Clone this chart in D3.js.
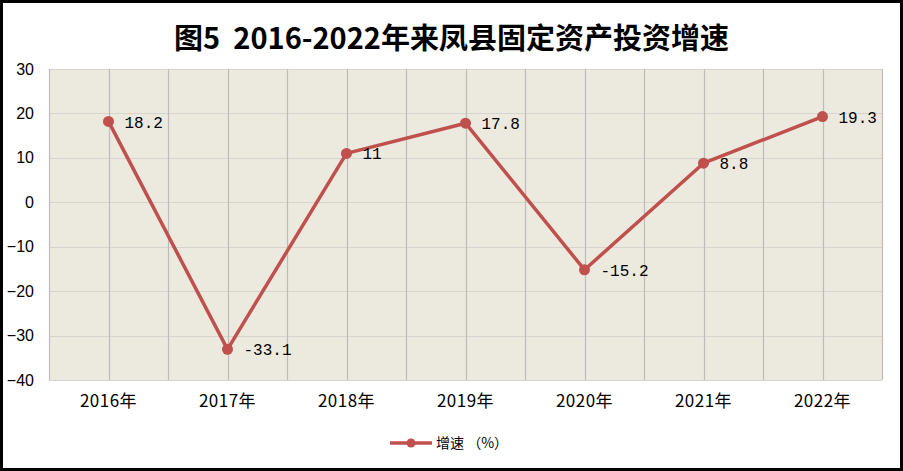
<!DOCTYPE html>
<html>
<head>
<meta charset="utf-8">
<script src="https://cdn.jsdelivr.net/npm/d3@7"></script>
<style>
  body { margin: 0; background: #fff; }
  svg { display: block; }
</style>
</head>
<body>
<div id="chart"></div>
<script>
// Dữ liệu biểu đồ
const years = ["2016年", "2017年", "2018年", "2019年", "2020年", "2021年", "2022年"];
const growthRate = [18.2, -33.1, 11, 17.8, -15.2, 8.8, 19.3];
const yTicks = [30, 20, 10, 0, -10, -20, -30, -40];
const seriesName = "增速 （%）";
const chartTitle = "图5  2016-2022年来凤县固定资产投资增速";

const W = 903, H = 471;
const margin = { top: 69, right: 21, bottom: 91, left: 49 };
const width = W - margin.left - margin.right;
const height = H - margin.top - margin.bottom;
const lineColor = "#C0504D";

const svgRoot = d3.select("#chart").append("svg")
    .attr("width", W)
    .attr("height", H);

// khung ngoài
svgRoot.append("rect")
    .attr("x", 1.5).attr("y", 1.5)
    .attr("width", W - 3).attr("height", H - 3)
    .attr("fill", "#fff")
    .attr("stroke", "#000").attr("stroke-width", 3);

// tiêu đề (giữ 2 dấu cách)
svgRoot.append("text")
    .attr("x", W / 2)
    .attr("y", 49)
    .attr("text-anchor", "middle")
    .style("white-space", "pre")
    .style("font-family", "'Noto Sans CJK SC', 'Liberation Sans', sans-serif")
    .style("font-weight", "bold")
    .style("font-size", "29px")
    .style("fill", "#000")
    .text(chartTitle);

const svg = svgRoot.append("g")
    .attr("transform", `translate(${margin.left},${margin.top})`);

const x = d3.scaleBand().domain(years).range([0, width]).padding(0);
const y = d3.scaleLinear().domain([-40, 30]).range([height, 0]);

// nền vùng vẽ
svg.append("rect")
    .attr("width", width).attr("height", height)
    .attr("fill", "#ECE9DF");

// lưới ngang
svg.append("g")
    .selectAll("line")
    .data(yTicks)
    .join("line")
    .attr("x1", 0).attr("x2", width)
    .attr("y1", d => Math.round(y(d)) + 0.5).attr("y2", d => Math.round(y(d)) + 0.5)
    .attr("stroke", "#D6D4D0").attr("stroke-width", 1.2);

// lưới dọc: biên và tâm mỗi danh mục
const vLines = [];
years.forEach(c => { vLines.push(x(c)); vLines.push(x(c) + x.bandwidth() / 2); });
vLines.push(width);
svg.append("g")
    .selectAll("line")
    .data(vLines)
    .join("line")
    .attr("x1", d => Math.round(d) + 0.5).attr("x2", d => Math.round(d) + 0.5)
    .attr("y1", 0).attr("y2", height)
    .attr("stroke", "#BDBCBA").attr("stroke-width", 1.2);

// trục Y
const yAxis = svg.append("g")
    .call(d3.axisLeft(y).tickValues(yTicks).tickSize(0).tickPadding(15).tickFormat(d => d < 0 ? "\u2212" + Math.abs(d) : d));
yAxis.select(".domain").remove();
yAxis.selectAll("text")
    .style("font-family", "'Liberation Sans', sans-serif")
    .style("font-size", "16px")
    .style("fill", "#000");

// trục X
const xAxis = svg.append("g")
    .attr("transform", `translate(0,${height})`)
    .call(d3.axisBottom(x).tickSize(0).tickPadding(15));
xAxis.select(".domain").remove();
xAxis.selectAll("text")
    .style("font-family", "'Noto Sans CJK SC', sans-serif")
    .style("font-size", "17px")
    .style("letter-spacing", "0.5px")
    .style("fill", "#000");

const cx = (d, i) => x(years[i]) + x.bandwidth() / 2;

// đường
svg.append("path")
    .datum(growthRate)
    .attr("fill", "none")
    .attr("stroke", lineColor).attr("stroke-width", 3.5)
    .attr("stroke-linejoin", "round")
    .attr("d", d3.line().x(cx).y(d => y(d)));

// điểm
svg.selectAll(".dot")
    .data(growthRate)
    .join("circle")
    .attr("class", "dot")
    .attr("cx", cx)
    .attr("cy", d => y(d))
    .attr("r", 5.5)
    .attr("fill", lineColor);

// nhãn dữ liệu
svg.selectAll(".lbl")
    .data(growthRate)
    .join("text")
    .attr("class", "lbl")
    .attr("x", (d, i) => cx(d, i) + 16)
    .attr("y", d => y(d))
    .attr("dy", "0.38em")
    .style("font-family", "'Liberation Mono', monospace")
    .style("font-size", "16px")
    .style("fill", "#000")
    .text(d => String(d));

// chú giải
const lg = svgRoot.append("g").attr("transform", "translate(390,443)");
lg.append("line").attr("x1", 0).attr("x2", 42).attr("y1", 0).attr("y2", 0)
    .attr("stroke", lineColor).attr("stroke-width", 3.5);
lg.append("circle").attr("cx", 21).attr("cy", 0).attr("r", 4.5).attr("fill", lineColor);
lg.append("text")
    .attr("x", 46).attr("y", 0).attr("dy", "0.36em")
    .style("font-family", "'Noto Sans CJK SC', sans-serif")
    .style("font-size", "14px")
    .style("fill", "#000")
    .text(seriesName);
</script>
</body>
</html>
